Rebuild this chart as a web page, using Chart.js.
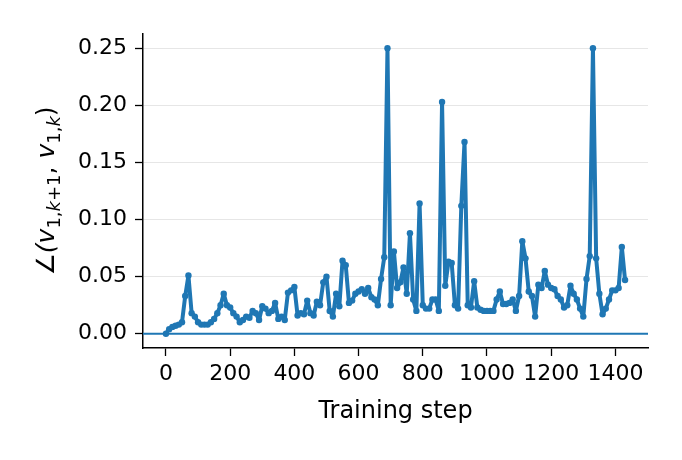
<!DOCTYPE html>
<html lang="en">
<head>
  <meta charset="UTF-8">
  <title>Angle between leading eigenvectors</title>
  <script src="https://cdn.jsdelivr.net/npm/chart.js"></script>
  <style>
    html, body { margin: 0; padding: 0; background: #fff; }
    canvas { display: block; }
  </style>
</head>
<body>
  <canvas id="angleChart" width="682" height="460"></canvas>

  <script>
    // training steps, one point every 10 steps
    const steps = [];
    for (let s = 0; s <= 1430; s += 10) steps.push(s);

    // angle values
    const angle = [
      0.000, 0.004, 0.006, 0.007, 0.008, 0.010, 0.033, 0.051, 0.018, 0.015,
      0.010, 0.008, 0.008, 0.008, 0.010, 0.013, 0.018, 0.025, 0.035, 0.025,
      0.023, 0.018, 0.015, 0.010, 0.012, 0.015, 0.014, 0.020, 0.018, 0.012,
      0.024, 0.022, 0.018, 0.020, 0.027, 0.013, 0.015, 0.012, 0.036, 0.038,
      0.041, 0.016, 0.018, 0.017, 0.029, 0.018, 0.016, 0.028, 0.025, 0.045,
      0.050, 0.020, 0.015, 0.035, 0.024, 0.064, 0.060, 0.027, 0.029, 0.035,
      0.037, 0.039, 0.035, 0.040, 0.032, 0.030, 0.025, 0.048, 0.067, 0.250,
      0.025, 0.072, 0.040, 0.045, 0.058, 0.035, 0.088, 0.030, 0.020, 0.114,
      0.025, 0.022, 0.022, 0.030, 0.030, 0.020, 0.203, 0.042, 0.063, 0.062,
      0.025, 0.022, 0.112, 0.168, 0.025, 0.023, 0.046, 0.023, 0.021, 0.020,
      0.020, 0.020, 0.020, 0.030, 0.037, 0.026, 0.026, 0.027, 0.030, 0.020,
      0.033, 0.081, 0.066, 0.037, 0.033, 0.015, 0.043, 0.040, 0.055, 0.043,
      0.040, 0.039, 0.033, 0.030, 0.023, 0.025, 0.042, 0.035, 0.030, 0.022,
      0.015, 0.048, 0.068, 0.250, 0.066, 0.035, 0.017, 0.022, 0.030, 0.038,
      0.038, 0.040, 0.076, 0.047
    ];

    const xTicks = [0, 200, 400, 600, 800, 1000, 1200, 1400];
    const yTicks = [0.00, 0.05, 0.10, 0.15, 0.20, 0.25];

    const blue = '#1f77b4';
    const font = 'DejaVu Sans';

    // zero line plus the axis titles (y title has subscripts)
    const extras = {
      id: 'extras',
      beforeDatasetsDraw(chart) {
        const { ctx, chartArea, scales } = chart;
        const y0 = scales.y.getPixelForValue(0);
        ctx.save();
        ctx.strokeStyle = blue;
        ctx.lineWidth = 2;
        ctx.beginPath();
        ctx.moveTo(chartArea.left, y0);
        ctx.lineTo(chartArea.right, y0);
        ctx.stroke();
        ctx.restore();
      },
      afterDraw(chart) {
        const { ctx, chartArea } = chart;
        ctx.save();
        ctx.fillStyle = '#000';
        ctx.textAlign = 'center';
        ctx.textBaseline = 'middle';
        ctx.font = '24px "' + font + '"';
        ctx.fillText('Training step', (chartArea.left + chartArea.right) / 2, 412);

        // rotated y title: ∠(v_{1,k+1}, v_{1,k})
        const parts = [
          { t: '\u2220(', f: 'italic 25px', dy: 0 },
          { t: 'v', f: 'italic 25px', dy: 0 },
          { t: '1,', f: '18px', dy: 6 },
          { t: 'k', f: 'italic 18px', dy: 6 },
          { t: '+1', f: '18px', dy: 6 },
          { t: ', ', f: '25px', dy: 0 },
          { t: 'v', f: 'italic 25px', dy: 0 },
          { t: '1,', f: '18px', dy: 6 },
          { t: 'k', f: 'italic 18px', dy: 6 },
          { t: ')', f: '25px', dy: 0 }
        ];
        let total = 0;
        parts.forEach(p => {
          ctx.font = p.f + ' "' + font + '"';
          p.w = ctx.measureText(p.t).width;
          total += p.w;
        });
        ctx.translate(46, (chartArea.top + chartArea.bottom) / 2);
        ctx.rotate(-Math.PI / 2);
        ctx.textAlign = 'left';
        ctx.textBaseline = 'alphabetic';
        let x = -total / 2;
        parts.forEach(p => {
          ctx.font = p.f + ' "' + font + '"';
          ctx.fillText(p.t, x, 8 + p.dy);
          x += p.w;
        });
        ctx.restore();
      }
    };

    const ctx = document.getElementById('angleChart').getContext('2d');
    new Chart(ctx, {
      type: 'line',
      data: {
        datasets: [{
          data: steps.map((s, i) => ({ x: s, y: angle[i] })),
          borderColor: blue,
          backgroundColor: blue,
          borderWidth: 4,
          borderJoinStyle: 'round',
          borderCapStyle: 'round',
          pointRadius: 3.2,
          pointBorderWidth: 0,
          pointBackgroundColor: blue,
          tension: 0
        }]
      },
      options: {
        responsive: false,
        animation: false,
        layout: { padding: { top: 34, right: 34, left: 0, bottom: 0 } },
        plugins: {
          legend: { display: false },
          tooltip: { enabled: false }
        },
        scales: {
          x: {
            type: 'linear',
            min: -71.5,
            max: 1501.5,
            afterBuildTicks: s => { s.ticks = xTicks.map(v => ({ value: v })); },
            afterFit: s => { s.height = 112; },
            grid: { drawOnChartArea: false, tickLength: 8, tickColor: '#000', tickWidth: 1.3 },
            border: { display: true, color: '#000', width: 1.5 },
            ticks: { color: '#000', padding: 5, maxRotation: 0, autoSkip: false,
                     font: { family: font, size: 22 },
                     callback: v => String(v) }
          },
          y: {
            type: 'linear',
            min: -0.0125,
            max: 0.2625,
            afterBuildTicks: s => { s.ticks = yTicks.map(v => ({ value: v })); },
            afterFit: s => { s.width = 143; },
            grid: { color: '#e6e6e6', lineWidth: 1, tickLength: 8, tickColor: '#000', tickWidth: 1.3 },
            border: { display: true, color: '#000', width: 1.5 },
            ticks: { color: '#000', padding: 8, autoSkip: false,
                     font: { family: font, size: 22 },
                     callback: v => v.toFixed(2) }
          }
        }
      },
      plugins: [extras]
    });
  </script>
</body>
</html>
